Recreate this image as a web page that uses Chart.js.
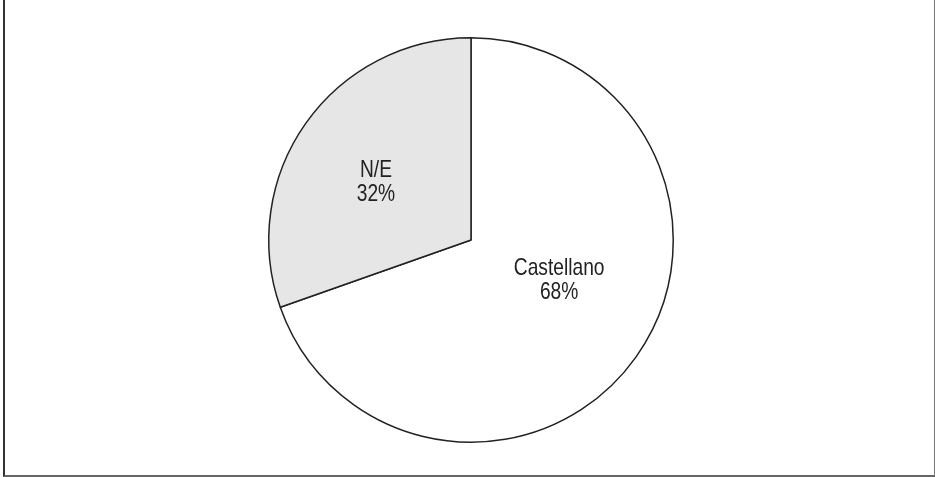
<!DOCTYPE html>
<html>
<head>
<meta charset="utf-8">
<script src="https://cdn.jsdelivr.net/npm/chart.js@4"></script>
<style>
    html, body { margin: 0; padding: 0; background: #fff; }
    .wrap { position: relative; width: 935px; height: 477px; }
    .frame {
        position: absolute; left: 3px; top: 0; width: 929px; height: 475px;
        border-left: 2px solid #333; border-right: 2px solid #777; border-bottom: 2px solid #666;
    }
    canvas { position: absolute; left: 0; top: 0; }
</style>
</head>
<body>
<div class="wrap">
    <div class="frame"></div>
    <canvas id="pieChart" width="935" height="477"></canvas>
</div>
<script>
// Slice order runs clockwise from 12 o'clock
const categories = ['Castellano', 'N/E'];
const shares = [69.6, 30.4];          // slice sizes as drawn
const pctLabels = ['68%', '32%'];     // percentages printed on the slices
const sliceColors = ['#ffffff', '#e6e6e6'];

// label placement: fraction of radius and angle nudge (degrees) per slice
const labelRadius = [0.48, 0.55];
const labelNudge = [-10.5, -4];

const sliceLabels = {
    id: 'sliceLabels',
    afterDatasetsDraw(chart) {
        const ctx = chart.ctx;
        const arcs = chart.getDatasetMeta(0).data;
        ctx.save();
        ctx.font = "24px 'Liberation Sans', sans-serif";
        ctx.fillStyle = '#222';
        ctx.textAlign = 'center';
        ctx.textBaseline = 'middle';
        arcs.forEach((arc, i) => {
            const p = arc.getProps(['x', 'y', 'startAngle', 'endAngle', 'outerRadius'], true);
            const mid = (p.startAngle + p.endAngle) / 2 + labelNudge[i] * Math.PI / 180;
            const r = p.outerRadius * labelRadius[i];
            const cx = p.x + Math.cos(mid) * r;
            const cy = p.y + Math.sin(mid) * r;
            // condensed look: squeeze the text horizontally
            ctx.save();
            ctx.translate(cx, cy);
            ctx.scale(0.8, 1);
            ctx.fillText(categories[i], 0, -12);
            ctx.fillText(pctLabels[i], 0, 12);
            ctx.restore();
        });
        ctx.restore();
    }
};

new Chart(document.getElementById('pieChart').getContext('2d'), {
    type: 'pie',
    data: {
        labels: categories,
        datasets: [{
            data: shares,
            backgroundColor: sliceColors,
            borderColor: '#222',
            borderWidth: 1.5,
            borderAlign: 'center'
        }]
    },
    options: {
        responsive: false,
        animation: false,
        layout: { padding: { top: 37, bottom: 34, left: 7, right: 0 } },
        plugins: {
            legend: { display: false },
            tooltip: { enabled: false }
        }
    },
    plugins: [sliceLabels]
});
</script>
</body>
</html>
